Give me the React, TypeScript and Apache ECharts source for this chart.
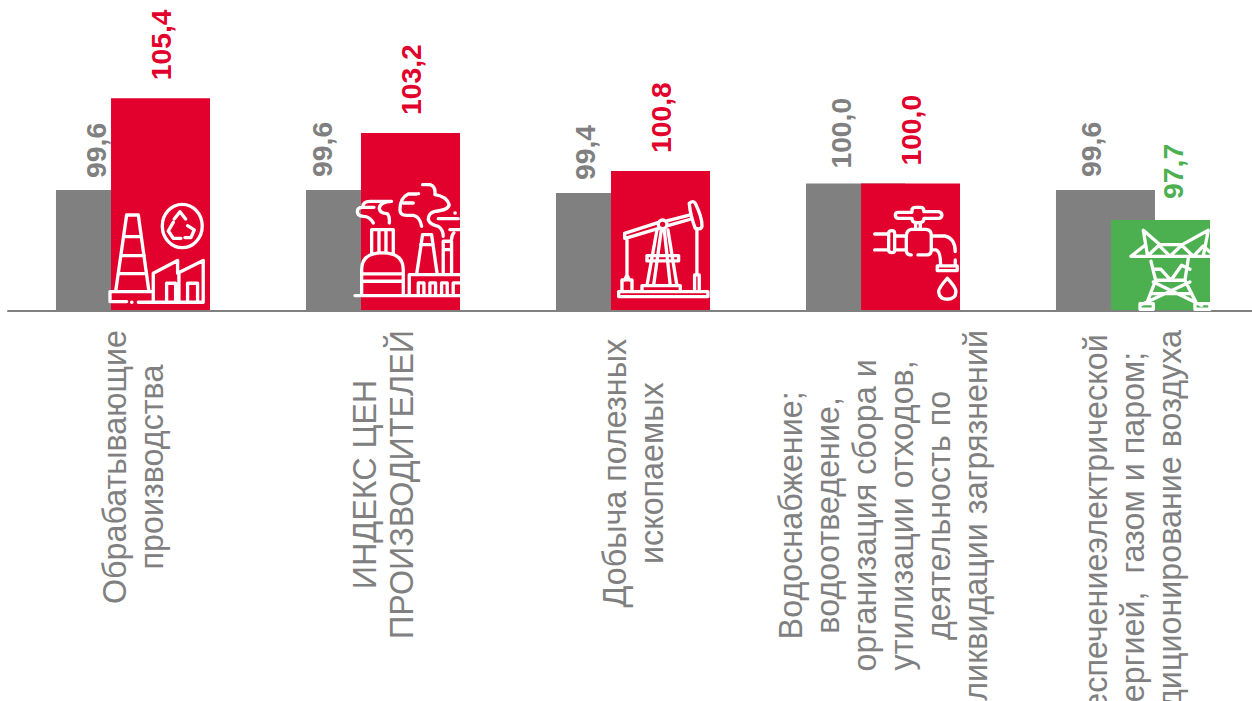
import React, { useEffect, useRef } from "react";
import * as echarts from "echarts";

const categories = [
  "Обрабатывающие\nпроизводства",
  "ИНДЕКС ЦЕН\nПРОИЗВОДИТЕЛЕЙ",
  "Добыча полезных \nископаемых ",
  "Водоснабжение;\nводоотведение,\nорганизация сбора и\nутилизации отходов,\nдеятельность по\nликвидации загрязнений",
  "Обеспечениеэлектрической\nэнергией,  газом и паром;\nкондиционирование воздуха",
];
const previousValues = [99.6, 99.6, 99.4, 100.0, 99.6];
const currentValues = [105.4, 103.2, 100.8, 100.0, 97.7];

const GRAY = "#808080";
const RED = "#E2002C";
const GREEN = "#4CAF50";

const previousLabelShift = [-9.5, -33, -20, -14.5, -14];
const currentLabelShift = [0, 0, 0, 0, 12];
const previousLabelGap = [12, 13, 13, 15, 13];
const currentLabelGap = [18, 18, 18, 18, 21];

const icons: { name: string; x: number; y: number; d: string }[] = [
  {
    name: "iconPlant",
    x: 105,
    y: 195,
    d: "M32 290L65 60L100 60L132 290M58 125H108M48 182H118M40 236H125M15 290H140M15 290V320H65M100 322H295M80 322h1M145 322V235L218 197V235L295 197V322M222 235V322M185 322V265H212V322M248 322V265H278V322M172 93A60 65 0 1 1 292 93A60 65 0 1 1 172 93M208 72L225 50L242 72M205 82L190 108L205 130L228 130M248 92L268 105L258 128L240 128",
  },
  {
    name: "iconFactory",
    x: 350,
    y: 178,
    d: "M15 353H330M35 350V275Q35 225 97 225Q160 225 160 275V350M35 288H160M35 310H160M65 225V155H130V225M87 155V222M108 155V222M70 135Q60 115 40 115Q22 115 22 100Q22 88 38 88H72M38 88Q38 70 60 70H125Q88 72 88 92Q90 105 112 107Q120 115 118 135M200 48H175Q150 60 150 95Q150 112 170 112H190Q210 115 215 145M160 75H190M205 47h1M218 20H240Q258 25 255 50Q290 55 298 80Q295 97 255 100Q235 105 235 125Q240 140 265 145Q280 155 280 175M265 122H325M315 105h1M300 155H330M312 165Q305 172 305 185M200 290L218 170H245L262 290M212 200H250M280 290V190H305V290M280 215H305M178 350V290H330M205 350V315H222V350M240 350V315H257V350M275 350V315H292V350M310 350V315H330",
  },
  {
    name: "iconPump",
    x: 612,
    y: 195,
    d: "M20 290H288V305H20ZM90 288V272H205V288M105 272L135 105M125 272L148 105M195 272L168 105M175 272L157 105M105 182H200V198H105ZM38 115L138 83M165 78L235 60M40 130L140 100M165 93L238 72M38 115V130M165 88A13 13 0 1 1 139 88A13 13 0 1 1 165 88M232 25Q245 15 250 25Q272 70 270 95Q265 105 250 100Q235 60 232 25ZM45 130V240M255 100V240M30 285V255H60V285M38 255L45 240L52 255M248 285V240H262V285",
  },
  {
    name: "iconTap",
    x: 868,
    y: 200,
    d: "M82 45Q82 37 92 37H132V30Q132 22 145 22H158Q168 22 168 35H212Q222 37 222 47Q220 55 212 55H168Q168 68 155 68H145Q132 68 132 55H92Q82 55 82 45ZM143 68V88M157 68V88M115 110Q115 90 130 88H175Q190 90 190 105V150Q190 165 175 165H150M130 165Q115 165 115 150V110M190 108H230Q262 115 262 155M190 150H205Q218 155 218 195M262 180V195M208 198H268V212H208ZM20 102H62M20 150H62M62 100Q62 92 72 92Q80 92 80 100V150Q80 158 72 158Q62 158 62 150ZM80 108H115M80 150H115M238 235Q212 265 212 275Q214 298 238 298Q264 298 264 275Q264 262 238 235Z",
  },
  {
    name: "iconPylon",
    x: 1125,
    y: 222,
    d: "M18 103H255M18 103L60 70M55 25L68 103M55 25L105 68H172L250 25L235 103M70 100L102 70L135 103L170 70L205 103L235 72L255 90M78 118L92 175L65 245M190 110L180 175L215 245M92 175H180M85 180L230 250M195 180L45 250M88 142H108L138 175L170 130L195 142M78 215H200M45 245H85V262H45ZM210 245H255V262H210Z",
  },
];

icons.forEach((icon) => {
  echarts.graphic.registerShape(icon.name, echarts.graphic.extendPath(icon.d, {}));
});

const valueText = (v: number) => v.toFixed(1).replace(".", ",");

const labelFor = (shift: number, gap: number, color: string) => ({
  show: true,
  position: "top",
  rotate: 90,
  align: "left",
  verticalAlign: "middle",
  distance: 0,
  offset: [gap, shift],
  color,
  fontSize: 28.3,
  fontWeight: "bold",
  fontFamily: "Liberation Sans",
  formatter: (p: any) => valueText(p.value),
});

export default function App() {
  const ref = useRef<HTMLDivElement>(null);
  useEffect(() => {
    document.body.style.margin = "0";
    document.body.style.overflow = "hidden";
    const chart = echarts.init(ref.current!, null, { renderer: "svg" });
    chart.setOption({
      animation: false,
      backgroundColor: "#ffffff",
      grid: { left: 8, right: -6, top: 25.6, height: 284.4, containLabel: false, outerBoundsMode: "none" },
      xAxis: {
        type: "category",
        data: categories,
        offset: 1,
        axisLine: { lineStyle: { color: GRAY, width: 2 } },
        axisTick: { show: false },
        axisLabel: {
          interval: 0,
          rotate: 90,
          align: "right",
          verticalAlign: "middle",
          margin: 19,
          color: GRAY,
          fontSize: 32.3,
          lineHeight: 37,
          fontFamily: "Liberation Sans",
          hideOverlap: false,
          formatter: (v: string) =>
            v
              .split("\n")
              .map((l) => `{c|${l}}`)
              .join("\n"),
          rich: { c: { align: "center", fontSize: 32.3, lineHeight: 37, color: GRAY, fontFamily: "Liberation Sans" } },
        },
      },
      yAxis: { type: "value", min: 92, max: 110, show: false, splitLine: { show: false } },
      series: [
        {
          type: "bar",
          barWidth: 99,
          barGap: "-44.4%",
          itemStyle: { color: GRAY },
          data: previousValues.map((value, i) => ({
            value,
            label: labelFor(previousLabelShift[i], previousLabelGap[i], GRAY),
          })),
        },
        {
          type: "bar",
          barWidth: 99,
          data: currentValues.map((value, i) => {
            const color = value < 100 ? GREEN : RED;
            return {
              value,
              itemStyle: { color },
              label: labelFor(currentLabelShift[i], currentLabelGap[i], color),
            };
          }),
        },
      ],
      graphic: icons.map((icon) => ({
        type: icon.name,
        x: icon.x,
        y: icon.y,
        scaleX: 1 / 3,
        scaleY: 1 / 3,
        silent: true,
        z: 100,
        style: { stroke: "#ffffff", fill: "none", lineWidth: 10, lineCap: "round", lineJoin: "round" },
      })),
    });
    return () => chart.dispose();
  }, []);
  return <div ref={ref} style={{ width: 1252, height: 701 }} />;
}
